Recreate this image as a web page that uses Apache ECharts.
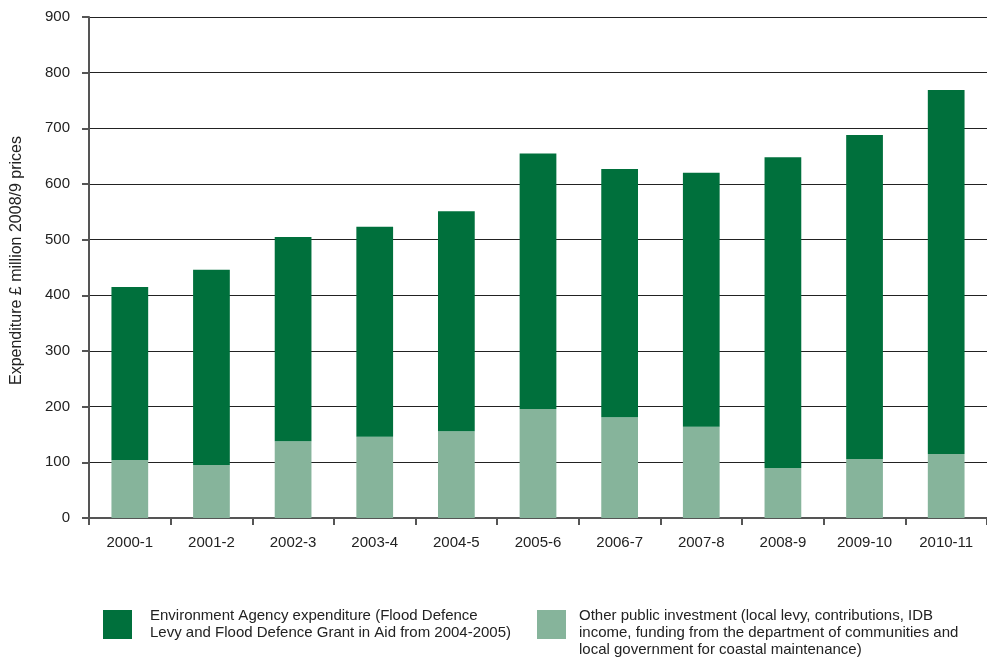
<!DOCTYPE html>
<html>
<head>
<meta charset="utf-8">
<script src="https://cdn.jsdelivr.net/npm/echarts@6/dist/echarts.min.js"></script>
<style>
  html, body { margin: 0; padding: 0; background: #fff; }
  #chart { width: 987px; height: 664px; }
</style>
</head>
<body>
<div id="chart"></div>
<script>
// Financial years
const years = ['2000-1', '2001-2', '2002-3', '2003-4', '2004-5', '2005-6',
               '2006-7', '2007-8', '2008-9', '2009-10', '2010-11'];
// Other public investment (£ million, 2008/9 prices)
const otherInvestment = [104, 95, 138, 146, 156, 196, 181, 164, 90, 106, 115];
// Environment Agency expenditure (£ million, 2008/9 prices)
const agencyExpenditure = [311, 351, 367, 377, 395, 459, 446, 456, 558, 582, 654];
// Value axis ticks
const yTicks = { min: 0, max: 900, interval: 100 };

const agencyName = 'Environment Agency expenditure (Flood Defence\nLevy and Flood Defence Grant in Aid from 2004-2005)';
const otherName = 'Other public investment (local levy, contributions, IDB\nincome, funding from the department of communities and\nlocal government for coastal maintenance)';

const darkGreen = '#00703c';
const lightGreen = '#86b49b';
const font = 'Liberation Sans, Arial, sans-serif';

const legendText = (leftPad) => ({
  fontSize: 15, color: '#222', lineHeight: 17, fontFamily: font, padding: [0, 0, 0, leftPad]
});

const chart = echarts.init(document.getElementById('chart'));
chart.setOption({
  animation: false,
  textStyle: { fontFamily: font },
  grid: { left: 89, right: 0, top: 17, bottom: 146, containLabel: false, outerBoundsMode: 'none' },
  legend: [
    {
      data: [agencyName],
      icon: 'rect',
      left: 103, top: 610 + 14.5 - 17,
      padding: 0,
      itemWidth: 29, itemHeight: 29,
      selectedMode: false,
      textStyle: legendText(13)
    },
    {
      data: [otherName],
      icon: 'rect',
      left: 537, top: 610 + 14.5 - 34,
      padding: 0,
      itemWidth: 29, itemHeight: 29,
      selectedMode: false,
      // a blank first line keeps the three text lines hanging from the swatch top
      formatter: (name) => '\n' + name,
      textStyle: legendText(8)
    }
  ],
  xAxis: {
    type: 'category',
    data: years,
    axisLine: { lineStyle: { color: '#555', width: 2 } },
    axisTick: { show: true, length: 7, lineStyle: { color: '#555', width: 2 } },
    axisLabel: { color: '#222', fontSize: 15, margin: 17, fontFamily: font },
    splitLine: { show: false }
  },
  yAxis: {
    type: 'value',
    min: yTicks.min, max: yTicks.max, interval: yTicks.interval,
    name: 'Expenditure £ million 2008/9 prices',
    nameLocation: 'middle',
    nameGap: 64,
    nameRotate: 90,
    nameTextStyle: { color: '#222', fontSize: 16, fontFamily: font, padding: [0, 0, 0, 14] },
    axisLine: { show: true, lineStyle: { color: '#555', width: 2 } },
    axisTick: { show: true, length: 7, lineStyle: { color: '#555', width: 2 } },
    axisLabel: { color: '#222', fontSize: 15, margin: 19, fontFamily: font },
    splitLine: { show: true, lineStyle: { color: '#222', width: 1 } }
  },
  series: [
    {
      name: otherName,
      type: 'bar',
      stack: 'total',
      data: otherInvestment,
      barWidth: '45%',
      itemStyle: { color: lightGreen }
    },
    {
      name: agencyName,
      type: 'bar',
      stack: 'total',
      data: agencyExpenditure,
      barWidth: '45%',
      itemStyle: { color: darkGreen }
    }
  ]
});
</script>
</body>
</html>
